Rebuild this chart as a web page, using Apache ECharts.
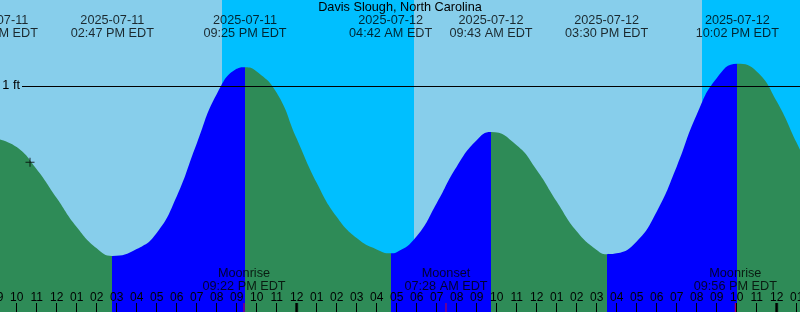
<!DOCTYPE html>
<html>
<head>
<meta charset="utf-8">
<script src="https://cdn.jsdelivr.net/npm/echarts@6/dist/echarts.min.js"></script>
<style>html,body{margin:0;padding:0;background:#87CEEB;}#c{width:800px;height:312px;}</style>
</head>
<body>
<div id="c"></div>
<script>
// ---- data ----
const titleText = 'Davis Slough, North Carolina';
const extremeTimes = ['2025-07-11 08:59','2025-07-11 14:47','2025-07-11 21:25','2025-07-12 04:42','2025-07-12 09:43','2025-07-12 15:30','2025-07-12 22:02'];
const extremeHeights = [0.69, 0.00, 1.11, 0.015, 0.728, 0.01, 1.13];
const curveTimes = [
 '2025-07-11 10:00','2025-07-11 11:00','2025-07-11 12:00','2025-07-11 13:00','2025-07-11 14:00','2025-07-11 16:00',
 '2025-07-11 17:00','2025-07-11 18:00','2025-07-11 19:00','2025-07-11 20:00','2025-07-11 21:00','2025-07-11 22:00','2025-07-11 23:00',
 '2025-07-12 00:00','2025-07-12 01:00','2025-07-12 02:00','2025-07-12 03:00','2025-07-12 04:00','2025-07-12 05:00','2025-07-12 06:00','2025-07-12 07:00',
 '2025-07-12 08:00','2025-07-12 09:00','2025-07-12 11:00','2025-07-12 12:00','2025-07-12 13:00','2025-07-12 14:00','2025-07-12 15:00',
 '2025-07-12 16:00','2025-07-12 17:00','2025-07-12 18:00','2025-07-12 19:00','2025-07-12 20:00','2025-07-12 21:00','2025-07-12 23:00',
 '2025-07-13 00:00','2025-07-13 01:00','2025-07-13 02:00'];
const curveHeights = [
 0.64,0.51,0.34,0.17,0.045,0.04,
 0.135,0.35,0.66,0.95,1.10,1.085,0.96,
 0.69,0.43,0.23,0.105,0.038,0.022,0.115,0.31,
 0.525,0.68,0.65,0.505,0.32,0.145,0.035,
 0.015,0.085,0.26,0.525,0.83,1.045,1.085,
 0.91,0.665,0.42];
const nightStarts = ['2025-07-11 20:16','2025-07-12 20:16'];
const nightEnds   = ['2025-07-12 05:52','2025-07-13 02:00'];
const moonTimes  = ['2025-07-11 21:22','2025-07-12 07:28','2025-07-12 21:56'];
const moonEvents = ['Moonrise','Moonset','Moonrise'];
const dayStarts  = ['2025-07-12 00:00','2025-07-13 00:00'];
const nowTime = '2025-07-11 10:40';
const nowHeight = 0.551;
const refLevel = 1;
const refLabel = '1 ft';
const X_MIN = -15, X_MAX = 26;      // hours relative to 2025-07-12 00:00
const Y_MIN = -0.33, Y_MAX = 1.505; // feet

// ---- helpers ----
function toHours(s){ const d=+s.slice(8,10), h=+s.slice(11,13), m=+s.slice(14,16); return (d-12)*24+h+m/60; }
function pad(n){ return String(n).padStart(2,'0'); }
function fmt12(s){ let h=+s.slice(11,13); const m=s.slice(14,16); const ap=h<12?'AM':'PM'; h=h%12; if(h===0)h=12; return pad(h)+':'+m+' '+ap+' EDT'; }

const FONT = 'Liberation Sans';
const curve = [];
curveTimes.forEach((t,i)=>curve.push([toHours(t), curveHeights[i]]));
extremeTimes.forEach((t,i)=>curve.push([toHours(t), extremeHeights[i]]));
curve.sort((a,b)=>a[0]-b[0]);

const GREEN = '#2E8B57', BLUE = '#0000FF';
const pieces = [];
const ex = extremeTimes.map(toHours);
pieces.push({lt: ex[0], color: BLUE});
for (let i=0;i<ex.length-1;i++){
  pieces.push({gte: ex[i], lt: ex[i+1], color: extremeHeights[i+1] > extremeHeights[i] ? BLUE : GREEN});
}
pieces.push({gte: ex[ex.length-1], color: extremeHeights[ex.length-1] > extremeHeights[ex.length-2] ? GREEN : BLUE});

const nightAreas = nightStarts.map((s,i)=>[{xAxis: toHours(s)}, {xAxis: toHours(nightEnds[i])}]);

const chart = echarts.init(document.getElementById('c'), null, {renderer:'canvas'});
chart.setOption({
  backgroundColor: '#87CEEB',
  animation: false,
  title: { text: titleText, left: 'center', top: 1, padding: 0, z: 20,
    textStyle: { fontFamily: FONT, fontSize: 12.7, fontWeight: 'normal', color: '#000', lineHeight: 13 } },
  grid: { left: -3.333, right: -16.667, top: 0, bottom: 0, containLabel: false, outerBoundsMode: 'none' },
  xAxis: { type: 'value', min: X_MIN, max: X_MAX, interval: 1, z: 10,
    axisLine: { show: false, onZero: false }, splitLine: { show: false },
    axisTick: { show: true, inside: true, length: 9, lineStyle: { color: '#000', width: 1 } },
    axisLabel: { show: true, inside: true, margin: 8, color: '#000', fontFamily: FONT, fontSize: 12, lineHeight: 12, hideOverlap: false,
      showMinLabel: true, showMaxLabel: true,
      formatter: v => { if (Math.abs(v-Math.round(v))>1e-6) return ''; const h=((Math.round(v)%12)+12)%12; return pad(h===0?12:h); } } },
  yAxis: { type: 'value', min: Y_MIN, max: Y_MAX, show: false, splitLine: { show: false } },
  visualMap: { show: false, type: 'piecewise', seriesIndex: 0, dimension: 0, pieces: pieces },
  series: [
    { type: 'line', data: curve, showSymbol: false, smooth: 0.5,
      lineStyle: { width: 0, opacity: 0 },
      areaStyle: { origin: 'start', opacity: 1 },
      silent: true, z: 2,
      markArea: { silent: true, itemStyle: { color: '#00BFFF', opacity: 1, borderWidth: 0 }, data: nightAreas },
      markLine: { silent: true, symbol: 'none', animation: false,
        lineStyle: { color: '#000', width: 1, type: 'solid', opacity: 1 },
        label: { show: true, position: 'start', distance: 2, formatter: refLabel, color: '#000', fontFamily: FONT, fontSize: 12.7 },
        data: [[{ yAxis: refLevel, x: 22 }, { yAxis: refLevel, x: '100%' }]] } },
    { type: 'scatter', clip: false, silent: true, z: 5, symbolSize: 0,
      data: extremeTimes.map(t => [toHours(t), Y_MAX]),
      label: { show: true, position: 'bottom', distance: 14.5, color: '#000', fontFamily: FONT, fontSize: 12.7, lineHeight: 12.5, align: 'center',
        formatter: p => extremeTimes[p.dataIndex].slice(0,10) + '\n' + fmt12(extremeTimes[p.dataIndex]) } },
    { type: 'scatter', clip: false, silent: true, z: 5, symbolSize: 0,
      data: moonTimes.map(t => [toHours(t), Y_MIN]),
      label: { show: true, position: 'top', distance: 19.5, color: '#000', fontFamily: FONT, fontSize: 12.7, lineHeight: 12.5, align: 'center',
        formatter: p => moonEvents[p.dataIndex] + '\n' + fmt12(moonTimes[p.dataIndex]) } },
    { type: 'scatter', clip: false, silent: true, z: 6, symbol: 'rect', symbolSize: [1, 9], symbolOffset: [0, '-50%'],
      itemStyle: { color: '#FF0000' }, data: moonTimes.map(t => [toHours(t), Y_MIN]) },
    { type: 'scatter', clip: false, silent: true, z: 6, symbol: 'rect', symbolSize: [3, 9], symbolOffset: [0, '-50%'],
      itemStyle: { color: '#000' }, data: dayStarts.map(t => [toHours(t), Y_MIN]) },
    { type: 'scatter', clip: false, silent: true, z: 6, symbol: 'path://M4 0h1v9h-1zM0 4h9v1h-9z', symbolSize: 9,
      itemStyle: { color: '#000' }, data: [[toHours(nowTime), nowHeight]] }
  ]
});
</script>
</body>
</html>
